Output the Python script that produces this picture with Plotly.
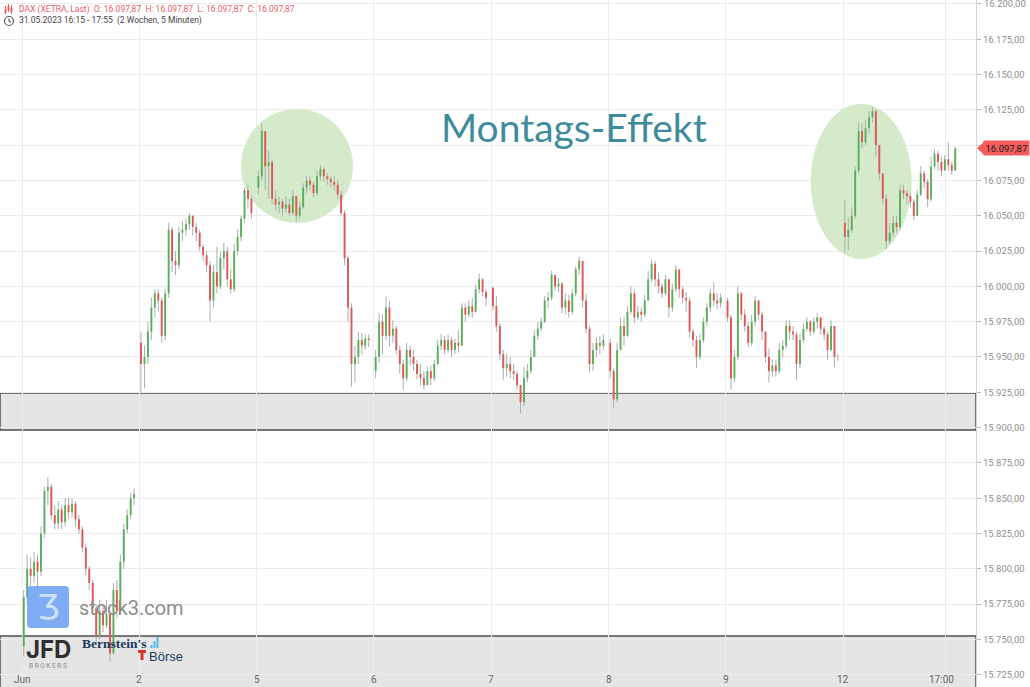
import plotly.graph_objects as go

# ---------------- data ----------------
DAY_LABELS = ["Jun", "2", "5", "6", "7", "8", "9", "12"]
TIME_TICK_LABEL = "17:00"
TIME_TICK_POS = 7.877          # 17:00 on 12 June, in trading-day units
BARS_PER_DAY = 34              # 15-minute bars per session

DAY_OPEN = [15745, 15960, 16070, 15940, 15999, 15960, 15990, 16045]

CLOSE_BY_DAY = [
    [15780, 15800, 15795, 15805, 15798, 15825, 15855, 15858, 15838, 15832, 15842, 15833, 15845, 15840, 15846, 15835, 15828,
     15815, 15800, 15790, 15772, 15752, 15770, 15760, 15768, 15740, 15785, 15770, 15805, 15828, 15838, 15850, 15853],
    [15945, 15950, 15968, 15985, 15995, 15990, 15965, 15995, 16040, 16018, 16015, 16038, 16040, 16044, 16050, 16042, 16038,
     16028, 16022, 16015, 15990, 16010, 16000, 16020, 16025, 16005, 15998, 16025, 16035, 16048, 16068, 16062, 16052],
    [16078, 16110, 16085, 16088, 16062, 16058, 16060, 16055, 16058, 16052, 16064, 16050, 16056, 16070, 16075, 16072, 16066,
     16078, 16083, 16078, 16076, 16074, 16072, 16065, 16052, 16020, 15985, 15945, 15950, 15962, 15958, 15963, 15962],
    [15950, 15975, 15965, 15985, 15965, 15970, 15955, 15945, 15935, 15955, 15950, 15945, 15938, 15935, 15930, 15940, 15935,
     15945, 15958, 15962, 15955, 15962, 15955, 15960, 15958, 15985, 15980, 15986, 15982, 15998, 16005, 15996, 15992],
    [15986, 15972, 15952, 15942, 15945, 15940, 15938, 15930, 15918, 15935, 15940, 15950, 15965, 15970, 15975, 15990, 15992,
     16008, 16000, 16002, 15985, 15990, 15982, 15995, 16012, 16018, 15990, 15970, 15945, 15955, 15960, 15958, 15962],
    [15940, 15920, 15955, 15972, 15965, 15982, 15995, 15978, 15982, 15980, 15990, 16005, 16016, 16005, 16000, 15995, 16005,
     15985, 15998, 16012, 15998, 15992, 15990, 15968, 15962, 15950, 15962, 15975, 15985, 15995, 15990, 15988, 15992],
    [15978, 15935, 15950, 15995, 15980, 15972, 15960, 15975, 15990, 15980, 15968, 15950, 15940, 15944, 15940, 15955, 15958,
     15972, 15968, 15966, 15945, 15962, 15970, 15975, 15968, 15975, 15978, 15970, 15966, 15955, 15972, 15950, 15950],
    [16035, 16040, 16050, 16082, 16110, 16102, 16112, 16120, 16124, 16100, 16080, 16062, 16032, 16038, 16045, 16042, 16068,
     16066, 16064, 16060, 16050, 16065, 16080, 16074, 16062, 16085, 16094, 16088, 16082, 16090, 16086, 16082, 16097.87],
]

HIGH_BY_DAY = [
    [15785, 15810, 15808, 15812, 15810, 15830, 15858, 15865, 15860, 15845, 15848, 15845, 15850, 15850, 15850, 15848, 15838,
     15830, 15818, 15802, 15792, 15775, 15778, 15775, 15778, 15770, 15790, 15792, 15810, 15832, 15842, 15854, 15857],
    [15968, 15958, 15975, 15992, 15998, 15998, 15992, 15998, 16045, 16042, 16025, 16042, 16046, 16048, 16052, 16050, 16045,
     16040, 16030, 16025, 16018, 16015, 16028, 16025, 16031, 16028, 16012, 16030, 16040, 16050, 16070, 16072, 16064],
    [16082, 16116, 16108, 16096, 16090, 16068, 16064, 16062, 16064, 16062, 16068, 16064, 16060, 16073, 16078, 16078, 16074,
     16082, 16086, 16084, 16080, 16078, 16078, 16075, 16068, 16054, 16022, 15988, 15958, 15968, 15967, 15966, 15966],
    [15955, 15981, 15980, 15993, 15990, 15976, 15972, 15958, 15948, 15960, 15958, 15955, 15948, 15945, 15940, 15943, 15944,
     15948, 15962, 15966, 15965, 15966, 15964, 15963, 15969, 15988, 15988, 15990, 15992, 16001, 16009, 16006, 15998],
    [16000, 15993, 15974, 15955, 15952, 15950, 15945, 15940, 15930, 15943, 15945, 15955, 15969, 15975, 15978, 15993, 15996,
     16011, 16008, 16006, 16003, 15995, 15994, 15998, 16014, 16021, 16018, 15995, 15972, 15960, 15964, 15965, 15966],
    [15963, 15942, 15960, 15978, 15978, 15986, 16000, 15998, 15986, 15985, 15994, 16011, 16019, 16018, 16010, 16002, 16008,
     16005, 16002, 16015, 16012, 16000, 15996, 15992, 15970, 15965, 15966, 15978, 15988, 15998, 16003, 15995, 15995],
    [15992, 15980, 15955, 16000, 15996, 15984, 15975, 15980, 15993, 15990, 15982, 15968, 15956, 15948, 15948, 15960, 15962,
     15976, 15976, 15972, 15968, 15966, 15974, 15978, 15976, 15978, 15981, 15978, 15972, 15968, 15976, 15972, 15952],
    [16061, 16049, 16056, 16085, 16116, 16115, 16118, 16124, 16127, 16125, 16100, 16080, 16065, 16045, 16050, 16050, 16072,
     16072, 16068, 16066, 16062, 16068, 16085, 16082, 16076, 16092, 16097, 16096, 16092, 16093, 16102, 16088, 16099],
]

LOW_BY_DAY = [
    [15738, 15775, 15788, 15790, 15785, 15795, 15822, 15845, 15835, 15828, 15828, 15828, 15830, 15835, 15836, 15830, 15825,
     15812, 15795, 15785, 15770, 15748, 15750, 15755, 15758, 15734, 15740, 15765, 15768, 15800, 15825, 15835, 15845],
    [15925, 15928, 15945, 15962, 15978, 15982, 15960, 15962, 15992, 16010, 16008, 16012, 16032, 16036, 16040, 16036, 16032,
     16025, 16018, 16010, 15975, 15985, 15995, 15998, 16012, 16000, 15995, 15996, 16022, 16032, 16045, 16055, 16048],
    [16065, 16075, 16068, 16062, 16058, 16054, 16052, 16050, 16052, 16050, 16050, 16046, 16048, 16055, 16066, 16068, 16063,
     16064, 16075, 16074, 16072, 16070, 16068, 16062, 16050, 16015, 15975, 15929, 15932, 15945, 15952, 15955, 15957],
    [15935, 15946, 15952, 15962, 15957, 15960, 15952, 15938, 15927, 15933, 15944, 15940, 15934, 15930, 15927, 15932, 15930,
     15933, 15944, 15955, 15952, 15953, 15950, 15952, 15953, 15958, 15975, 15978, 15978, 15982, 15995, 15993, 15986],
    [15983, 15968, 15948, 15934, 15936, 15935, 15934, 15927, 15910, 15915, 15932, 15938, 15950, 15962, 15968, 15974, 15985,
     15990, 15997, 15996, 15981, 15980, 15978, 15980, 15993, 16008, 15985, 15967, 15939, 15940, 15950, 15952, 15955],
    [15935, 15914, 15918, 15955, 15958, 15964, 15980, 15974, 15976, 15975, 15978, 15990, 16003, 16000, 15995, 15992, 15993,
     15978, 15982, 15996, 15992, 15988, 15982, 15964, 15957, 15942, 15948, 15960, 15972, 15982, 15986, 15984, 15985],
    [15975, 15927, 15932, 15948, 15976, 15968, 15957, 15958, 15972, 15976, 15962, 15946, 15932, 15936, 15936, 15938, 15950,
     15956, 15962, 15962, 15934, 15942, 15960, 15968, 15965, 15966, 15970, 15966, 15962, 15948, 15954, 15943, 15947],
    [16024, 16026, 16038, 16048, 16080, 16098, 16100, 16108, 16116, 16092, 16075, 16058, 16026, 16030, 16035, 16038, 16040,
     16062, 16058, 16056, 16047, 16050, 16064, 16070, 16056, 16060, 16083, 16082, 16078, 16085, 16082, 16079, 16082],
]

LAST_PRICE = 16097.87
Y_TICKS = list(range(15725, 16201, 25))
SUPPORT_ZONE = (15898.3, 15924.5)
LOWER_ZONE = (15690.0, 15752.4)
HEADER_LINE1 = "DAX (XETRA, Last)  O: 16.097,87  H: 16.097,87  L: 16.097,87  C: 16.097,87"
HEADER_LINE2 = "31.05.2023 16:15 - 17:55  (2 Wochen, 5 Minuten)"
TITLE_TEXT = "Montags-Effekt"

# ---------------- geometry ----------------
W, H = 1030, 687
PLOT_W = 976
PX_PER_DAY = 117.3
X0_PX = 22.0
X_RANGE = [(0 - X0_PX) / PX_PER_DAY, (PLOT_W - X0_PX) / PX_PER_DAY]
Y_RANGE = [15716.3, 16202.8]
PX_PER_POINT = H / (Y_RANGE[1] - Y_RANGE[0])
TICK_FONT = dict(family="Roboto, Arial", size=9.5, color="#8f8f8f")


def P(px, py):
    """pixel -> paper coordinates"""
    return px / PLOT_W, 1 - py / H


def XD(px):
    return (px - X0_PX) / PX_PER_DAY


def fmt_de(v):
    return f"{v:,.2f}".replace(",", "X").replace(".", ",").replace("X", ".")


# ---------------- build bars ----------------
xs, op, hi, lo, cl = [], [], [], [], []
for d, (o0, cs, hs, ls) in enumerate(zip(DAY_OPEN, CLOSE_BY_DAY, HIGH_BY_DAY, LOW_BY_DAY)):
    prev = o0
    for k, (c, h, l) in enumerate(zip(cs, hs, ls)):
        xs.append(d + (k + 0.5) / BARS_PER_DAY)
        op.append(prev)
        cl.append(c)
        hi.append(h)
        lo.append(l)
        prev = c

wick_x, wick_y = [], []
up_x, up_y, dn_x, dn_y = [], [], [], []
for x, o, h, l, c in zip(xs, op, hi, lo, cl):
    wick_x += [x, x, None]
    wick_y += [l, h, None]
    if c >= o:
        up_x += [x, x, None]
        up_y += [o, c, None]
    else:
        dn_x += [x, x, None]
        dn_y += [o, c, None]

fig = go.Figure()
fig.add_trace(go.Scatter(x=wick_x, y=wick_y, mode="lines",
                         line=dict(color="#acacac", width=1), hoverinfo="skip", showlegend=False))
fig.add_trace(go.Scatter(x=up_x, y=up_y, mode="lines",
                         line=dict(color="#5aae5a", width=1.9), hoverinfo="skip", showlegend=False))
fig.add_trace(go.Scatter(x=dn_x, y=dn_y, mode="lines",
                         line=dict(color="#df5656", width=1.9), hoverinfo="skip", showlegend=False))

shapes = []
# grey zones
for y0, y1 in (SUPPORT_ZONE, LOWER_ZONE):
    shapes.append(dict(type="rect", xref="paper", yref="y", x0=0, x1=1, y0=y0, y1=y1,
                       fillcolor="#e5e5e5", line=dict(color="#4d4d4d", width=1.5), layer="between"))
# green ellipses
shapes.append(dict(type="circle", xref="x", yref="y", x0=XD(241), x1=XD(353), y0=16044.9, y1=16125.6,
                   fillcolor="#d5eaca", line=dict(width=0), layer="between"))
shapes.append(dict(type="circle", xref="x", yref="y", x0=XD(810.7), x1=XD(911.7), y0=16019.4, y1=16129.2,
                   fillcolor="#d5eaca", line=dict(width=0), layer="between"))

# price tag arrow
tag_y = (Y_RANGE[1] - LAST_PRICE) * PX_PER_POINT
ax0, ay0 = P(977, tag_y)
ax1, ay1 = P(984, tag_y - 6.5)
ax2, ay2 = P(984, tag_y + 6.5)
shapes.append(dict(type="path", xref="paper", yref="paper",
                   path=f"M {ax0},{ay0} L {ax1},{ay1} L {ax2},{ay2} Z",
                   fillcolor="#f25c5c", line=dict(width=0), layer="above"))

# header icons: mini candles (red) and clock
for cx, b0, b1, w0, w1 in ((5.5, 9, 13, 6, 14), (8.5, 6, 10, 4, 12), (11.5, 8, 12, 5, 14)):
    xa, ya = P(cx, w0)
    xb, yb = P(cx, w1)
    shapes.append(dict(type="line", xref="paper", yref="paper", x0=xa, x1=xb, y0=ya, y1=yb,
                       line=dict(color="#e8605f", width=1)))
    xa, ya = P(cx - 1, b0)
    xb, yb = P(cx + 1, b1)
    shapes.append(dict(type="rect", xref="paper", yref="paper", x0=xa, x1=xb, y0=ya, y1=yb,
                       fillcolor="#e8605f", line=dict(width=0)))
cxa, cya = P(4.5, 16.5)
cxb, cyb = P(13.5, 25.5)
shapes.append(dict(type="circle", xref="paper", yref="paper", x0=cxa, x1=cxb, y0=cya, y1=cyb,
                   line=dict(color="#555555", width=1.2)))
pa = P(9, 18.5); pb = P(9, 21); pc = P(11, 22.3)
shapes.append(dict(type="path", xref="paper", yref="paper",
                   path=f"M {pa[0]},{pa[1]} L {pb[0]},{pb[1]} L {pc[0]},{pc[1]}",
                   line=dict(color="#555555", width=1.1)))

# stock3 logo square (rounded)
lx0, lx1, ly0, ly1, r = 27, 69, 586, 628, 4
pts = [P(lx0 + r, ly0), P(lx1 - r, ly0), P(lx1, ly0), P(lx1, ly0 + r), P(lx1, ly1 - r), P(lx1, ly1),
       P(lx1 - r, ly1), P(lx0 + r, ly1), P(lx0, ly1), P(lx0, ly1 - r), P(lx0, ly0 + r), P(lx0, ly0)]
path = (f"M {pts[0][0]},{pts[0][1]} L {pts[1][0]},{pts[1][1]} Q {pts[2][0]},{pts[2][1]} {pts[3][0]},{pts[3][1]} "
        f"L {pts[4][0]},{pts[4][1]} Q {pts[5][0]},{pts[5][1]} {pts[6][0]},{pts[6][1]} "
        f"L {pts[7][0]},{pts[7][1]} Q {pts[8][0]},{pts[8][1]} {pts[9][0]},{pts[9][1]} "
        f"L {pts[10][0]},{pts[10][1]} Q {pts[11][0]},{pts[11][1]} {pts[0][0]},{pts[0][1]} Z")
shapes.append(dict(type="path", xref="paper", yref="paper", path=path,
                   fillcolor="rgba(105,158,242,0.85)", line=dict(width=0), layer="above"))

# Bernstein's small bar icon (blue) and red mark
for bx, btop in ((151.5, 645), (154.5, 641), (157.5, 637)):
    xa, ya = P(bx - 1, btop)
    xb, yb = P(bx + 1, 648)
    shapes.append(dict(type="rect", xref="paper", yref="paper", x0=xa, x1=xb, y0=ya, y1=yb,
                       fillcolor="#5bb8ea", line=dict(width=0)))
for (rx0, ry0, rx1, ry1) in ((138, 650, 146, 653), (140.5, 650, 143.5, 660)):
    xa, ya = P(rx0, ry0)
    xb, yb = P(rx1, ry1)
    shapes.append(dict(type="rect", xref="paper", yref="paper", x0=xa, x1=xb, y0=ya, y1=yb,
                       fillcolor="#d9322f", line=dict(width=0)))

annotations = []
# x tick labels (drawn inside the plot, at the bottom)
for i, lab in enumerate(DAY_LABELS):
    annotations.append(dict(x=i, y=P(0, 679)[1], xref="x", yref="paper", text=lab, showarrow=False,
                            xanchor="center", yanchor="middle",
                            font=dict(family="Roboto, Arial", size=10, color="#666666")))
annotations.append(dict(x=TIME_TICK_POS - 0.035, y=P(0, 679)[1], xref="x", yref="paper", text=TIME_TICK_LABEL,
                        showarrow=False, xanchor="center", yanchor="middle",
                        font=dict(family="Roboto, Arial", size=10, color="#666666")))

# top y label (at the very edge, drawn as annotation so it is not dropped)
annotations.append(dict(x=1, y=Y_TICKS[-1], xref="paper", yref="y", text=fmt_de(Y_TICKS[-1]),
                        showarrow=False, xanchor="left", yanchor="middle", xshift=6, font=TICK_FONT))

# header
hx, hy = P(17, 9)
annotations.append(dict(x=hx, y=hy, xref="paper", yref="paper", text=HEADER_LINE1.replace(" ", "\u00a0"),
                        showarrow=False, xanchor="left", yanchor="middle",
                        font=dict(family="Roboto, Arial", size=8.5, color="#e8605f")))
hx, hy = P(17, 21)
annotations.append(dict(x=hx, y=hy, xref="paper", yref="paper", text=HEADER_LINE2.replace(" ", "\u00a0"),
                        showarrow=False, xanchor="left", yanchor="middle",
                        font=dict(family="Roboto, Arial", size=8.5, color="#444444")))

# title
tx, ty = P(574, 127)
annotations.append(dict(x=tx, y=ty, xref="paper", yref="paper", text=TITLE_TEXT, showarrow=False,
                        xanchor="center", yanchor="middle",
                        font=dict(family="Lato", size=39, color="#3e8c9b")))

# price tag
annotations.append(dict(x=1, y=LAST_PRICE, xref="paper", yref="y", text=fmt_de(LAST_PRICE),
                        showarrow=False, xanchor="left", yanchor="middle", xshift=7,
                        bgcolor="#f25c5c", borderpad=1.5,
                        font=dict(family="Roboto, Arial", size=9.5, color="#1a1a1a")))

# stock3 watermark
sx, sy = P(48, 607)
annotations.append(dict(x=sx, y=sy, xref="paper", yref="paper", text="Ʒ", showarrow=False,
                        xanchor="center", yanchor="middle",
                        font=dict(family="DejaVu Sans", size=34, color="rgba(225,236,255,0.85)")))
sx, sy = P(77, 608)
annotations.append(dict(x=sx, y=sy, xref="paper", yref="paper", text="stock3.com", showarrow=False,
                        xanchor="left", yanchor="middle",
                        font=dict(family="Roboto, Arial", size=20, color="#8c8c8c")))
# JFD brokers
jx, jy = P(48, 649)
annotations.append(dict(x=jx, y=jy, xref="paper", yref="paper", text="<b>JFD</b>", showarrow=False,
                        xanchor="center", yanchor="middle",
                        font=dict(family="Inter, Roboto", size=24, color="#2f2f2f")))
jx, jy = P(48, 666)
annotations.append(dict(x=jx, y=jy, xref="paper", yref="paper", text="B R O K E R S", showarrow=False,
                        xanchor="center", yanchor="middle",
                        font=dict(family="Roboto, Arial", size=6.5, color="#8a8a8a")))
# Bernstein's Börse
bx, by = P(80, 643)
annotations.append(dict(x=bx, y=by, xref="paper", yref="paper", text="<b>Bernstein's</b>", showarrow=False,
                        xanchor="left", yanchor="middle",
                        font=dict(family="Liberation Serif", size=13.5, color="#1d3b5e")))
bx, by = P(147, 656)
annotations.append(dict(x=bx, y=by, xref="paper", yref="paper", text="Börse", showarrow=False,
                        xanchor="left", yanchor="middle",
                        font=dict(family="Liberation Sans", size=13, color="#1d3b5e")))

fig.update_layout(
    width=W, height=H,
    margin=dict(l=0, r=W - PLOT_W, t=0, b=0),
    paper_bgcolor="white", plot_bgcolor="white",
    separators=",.",
    showlegend=False,
    shapes=shapes,
    annotations=annotations,
    xaxis=dict(range=X_RANGE, tickvals=list(range(len(DAY_LABELS))) + [TIME_TICK_POS],
               showticklabels=False, ticks="", showgrid=True, gridcolor="#ececec", gridwidth=1,
               zeroline=False, showline=False, fixedrange=True),
    yaxis=dict(range=Y_RANGE, side="right", tickvals=Y_TICKS,
               ticktext=[fmt_de(v) for v in Y_TICKS[:-1]] + [""],
               showgrid=True, gridcolor="#ececec", gridwidth=1, zeroline=False,
               showline=True, linecolor="#d6d6d6", linewidth=1,
               ticks="outside", ticklen=4, tickcolor="#bbbbbb",
               tickfont=TICK_FONT, fixedrange=True),
)

fig.write_html("out.html", config={"displayModeBar": False},
               post_script="document.body.style.margin='0';document.body.style.padding='0';")
